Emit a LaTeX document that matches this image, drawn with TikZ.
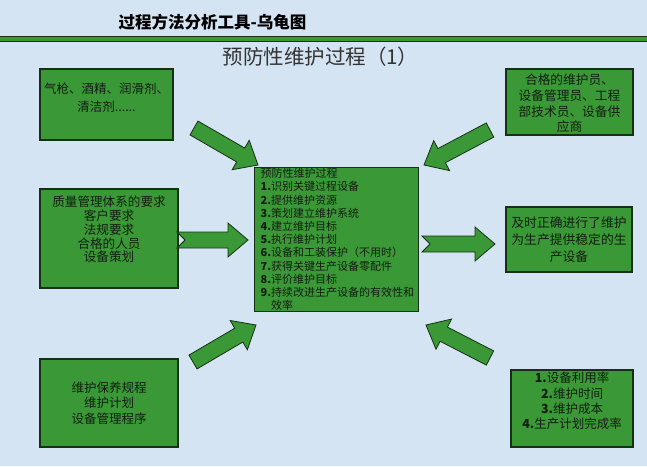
\documentclass[tikz,border=0pt]{standalone}
\usepackage{fontspec}
\setmainfont{Noto Sans CJK SC}
\usepackage{tikz}
\usetikzlibrary{calc}
\usepackage{color}

\definecolor{bgblue}{RGB}{212,228,242}
\definecolor{boxgreen}{RGB}{58,152,54}
\definecolor{edgegreen}{RGB}{22,48,22}
\definecolor{inktext}{RGB}{18,30,18}

\tikzset{
    box/.style={draw=edgegreen,fill=boxgreen,line width=1.2pt,inner sep=0pt},
    boxtext/.style={text=inktext,align=center,inner sep=0pt},
    arrowbody/.style={draw=edgegreen,fill=boxgreen,line width=0.8pt,line join=miter}
}

\newcommand{\bigarrow}[3][0pt]{%
    \coordinate (hb) at ($(#3)!20pt!(#2)$);
    \draw[arrowbody] ($(#2)!8pt!90:(#3)$)--($(hb)!8pt!90:(#3)$)--($(hb)!17pt!90:(#3)$)--(#3)
        --($(hb)!17pt!-90:(#3)$)--($(hb)!8pt!-90:(#3)$)--($(#2)!8pt!-90:(#3)$)--($(#2)!#1!(#3)$)--cycle;}

\begin{document}
\begin{tikzpicture}[x=1pt,y=-1pt]
    \useasboundingbox (0,0) rectangle (647,466);
    \fill[bgblue] (0,0) rectangle (647,466);
    
    \node[font=\bfseries\fontsize{16.5}{18}\selectfont] (title) at (212.5,22) {过程方法分析工具-乌龟图};
    \draw[draw=edgegreen,fill=boxgreen,line width=1.2pt] (-5,36.5) rectangle (652,41.5);
    \node[font=\fontsize{20.5}{22}\selectfont,text=black!80] (subtitle) at (320.5,56.5) {预防性维护过程（1）};
    
    \node[box,minimum width=133,minimum height=71] (tools) at (106.5,104.5) {};
    \node[boxtext,font=\fontsize{12.5}{18}\selectfont] (toolstext) at ([yshift=6.5pt]tools.center) {气枪、酒精、润滑剂、\\清洁剂......};
    
    \node[box,minimum width=127,minimum height=66] (staff) at (569.5,102) {};
    \node[boxtext,font=\fontsize{12.7}{15.7}\selectfont] (stafftext) at ([yshift=-1.5pt]staff.center) {合格的维护员、\\设备管理员、工程\\部技术员、设备供\\应商};
    
    \node[box,minimum width=138,minimum height=99] (reqs) at (109,238.5) {};
    \node[boxtext,font=\fontsize{12.6}{13.8}\selectfont] (reqstext) at ([yshift=9pt]reqs.center) {质量管理体系的要求\\客户要求\\法规要求\\合格的人员\\设备策划};
    
    \node[box,minimum width=126,minimum height=65] (result) at (569,239.5) {};
    \node[boxtext,font=\fontsize{12.8}{17}\selectfont] (resulttext) at (result.center) {及时正确进行了维护\\为生产提供稳定的生\\产设备};
    
    \node[box,minimum width=138,minimum height=88] (docs) at (109,403) {};
    \node[boxtext,font=\fontsize{12.5}{15.5}\selectfont] (docstext) at (docs.center) {维护保养规程\\维护计划\\设备管理程序};
    
    \node[box,minimum width=122,minimum height=77] (kpi) at (572,408.5) {};
    \node[boxtext,font=\fontsize{12.5}{15.3}\selectfont] (kpitext) at ([yshift=7.5pt]kpi.center) {\textbf{1.}设备利用率\\\textbf{2.}维护时间\\\textbf{3.}维护成本\\\textbf{4.}生产计划完成率};
    
    \node[box,anchor=north west,minimum width=164,minimum height=144,text width=152,inner xsep=6pt,align=left,text=inktext,font=\fontsize{11}{13.2}\selectfont] (proc) at (254,167) {预防性维护过程\\
        \textbf{1.}识别关键过程设备\\
        \textbf{2.}提供维护资源\\
        \textbf{3.}策划建立维护系统\\
        \textbf{4.}建立维护目标\\
        \textbf{5.}执行维护计划\\
        \textbf{6.}设备和工装保护（不用时）\\
        \textbf{7.}获得关键生产设备零配件\\
        \textbf{8.}评价维护目标\\
        \textbf{9.}持续改进生产设备的有效性和\\
        \phantom{\textbf{9.}}效率};
    
    \coordinate (toolsout) at (194,128);
    \coordinate (toolsin) at (258,165);
    \coordinate (staffout) at (490,130);
    \coordinate (staffin) at (424,165);
    \coordinate (reqsout) at (177,240);
    \coordinate (reqsin) at (248,240);
    \coordinate (procout) at (422,244);
    \coordinate (resultin) at (495,244);
    \coordinate (docsout) at (193,362);
    \coordinate (docsin) at (256,325);
    \coordinate (kpiout) at (490,358);
    \coordinate (kpiin) at (426,325);
    
    \bigarrow{toolsout}{toolsin}
    \bigarrow{staffout}{staffin}
    \bigarrow[8pt]{reqsout}{reqsin}
    \bigarrow[8pt]{procout}{resultin}
    \bigarrow{docsout}{docsin}
    \bigarrow{kpiout}{kpiin}
\end{tikzpicture}
\end{document}
